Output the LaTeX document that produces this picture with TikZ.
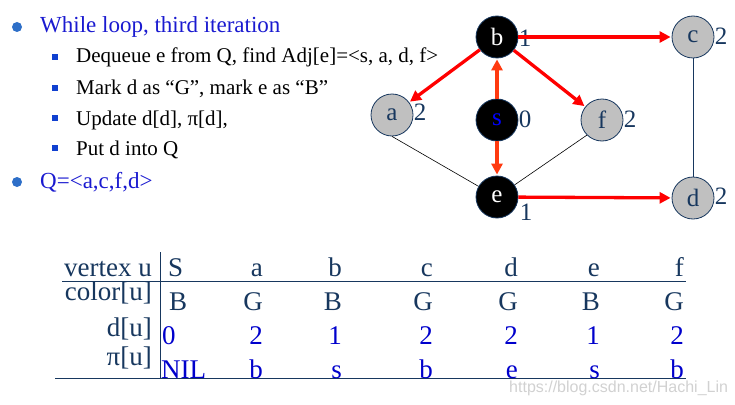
\documentclass[tikz,border=0pt]{standalone}
\usepackage{fontspec}
\setmainfont{Liberation Serif}
\newfontfamily\wmfont{Liberation Sans}
\usetikzlibrary{arrows.meta}
\definecolor{navy}{HTML}{17375E}
\definecolor{tblue}{HTML}{0000CC}
\definecolor{hblue}{HTML}{1A1AD0}
\definecolor{bulletblue}{HTML}{2E6FC8}
\definecolor{sqblue}{HTML}{1040D0}
\definecolor{nodegray}{HTML}{C0C0C0}
\definecolor{arrred}{HTML}{FF0000}
\definecolor{arrorange}{HTML}{FF3A10}
\tikzset{
  vtx/.style={circle, minimum size=42pt, inner sep=0pt, draw=navy, line width=0.8pt, font=\fontsize{25}{25}\selectfont},
  grayv/.style={vtx, fill=nodegray, text=navy},
  blackv/.style={vtx, fill=black, text=white},
  dist/.style={text=navy, font=\fontsize{25}{25}\selectfont, inner sep=0pt},
  tree/.style={draw=arrred, line width=3.3pt, -{Triangle[length=11pt,width=11pt]}, shorten >=1pt},
  treeo/.style={draw=arrorange, line width=3.3pt, -{Triangle[length=11pt,width=11pt]}, shorten >=1pt},
  plain/.style={draw=black, line width=0.6pt},
  bigbul/.style={circle, fill=bulletblue, minimum size=10pt, inner sep=0pt},
  sqbul/.style={rectangle, fill=sqblue, minimum size=6pt, inner sep=0pt},
  head/.style={anchor=base west, inner sep=0pt, text=hblue, font=\fontsize{23}{27}\selectfont},
  sub/.style={anchor=base west, inner sep=0pt, text=black, font=\fontsize{21}{25}\selectfont},
  rlab/.style={anchor=base east, inner sep=0pt, text=navy, font=\fontsize{27}{30}\selectfont},
  cnavy/.style={anchor=base east, inner sep=0pt, text=navy, font=\fontsize{27}{30}\selectfont},
  cblue/.style={anchor=base east, inner sep=0pt, text=tblue, font=\fontsize{27}{30}\selectfont},
  tline/.style={draw=navy, line width=1pt}
}
\begin{document}
\begin{tikzpicture}[x=1pt,y=-1pt]
\useasboundingbox (0,0) rectangle (735,404);
% bullets and text
\node[bigbul] (b1) at (17,27) {};
\node[head] (t1) at (40,33) {While loop, third iteration};
\node[sqbul] (s1) at (55,57) {};
\node[sub] (u1) at (76,63) {Dequeue e from Q, find Adj[e]=<s, a, d, f>};
\node[sqbul] (s2) at (55,88) {};
\node[sub] (u2) at (76,94) {Mark d as “G”, mark e as “B”};
\node[sqbul] (s3) at (55,118) {};
\node[sub] (u3) at (76,125) {Update d[d], π[d],};
\node[sqbul] (s4) at (55,148) {};
\node[sub] (u4) at (76,155) {Put d into Q};
\node[bigbul] (b2) at (17,182) {};
\node[head] (t2) at (40,188) {Q=<a,c,f,d>};
% graph
\node[blackv] (b) at (497,37) {b};
\node[grayv] (c) at (693,37) {c};
\node[grayv] (a) at (392,115) {a};
\node[blackv, text=blue] (s) at (497,120) {s};
\node[grayv] (f) at (602,120) {f};
\node[blackv] (e) at (497,197) {e};
\node[grayv] (d) at (693,198) {d};
\node[dist] (lb) at (525,38) {1};
\node[dist] (lc) at (721,36) {2};
\node[dist] (la) at (420,112) {2};
\node[dist] (ls) at (525,119) {0};
\node[dist] (lf) at (630,119) {2};
\node[dist] (le) at (526,212) {1};
\node[dist] (ld) at (721,196) {2};
\draw[plain] (a.south) -- (e);
\draw[plain] (f.south west) -- (e);
\draw[draw=navy, line width=0.8pt] (c) -- (d);
\draw[tree] (b) -- (c);
\draw[tree] (b) -- (a);
\draw[tree] (b) -- (f);
\draw[tree] (e) -- (d);
\draw[treeo] (s) -- (b);
\draw[treeo] (s) -- (e);
% table
\coordinate (vt) at (160,252);
\coordinate (vb) at (160,378);
\coordinate (hl) at (62,281);
\coordinate (hr) at (686,281);
\coordinate (bl) at (55,378);
\coordinate (br) at (686,378);
\draw[tline] (vt) -- (vb);
\draw[tline] (hl) -- (hr);
\draw[tline] (bl) -- (br);
\node[rlab] (r1) at (152,276) {vertex u};
\node[rlab] (r2) at (152,300) {color[u]};
\node[rlab] (r3) at (152,336) {d[u]};
\node[rlab] (r4) at (152,365) {π[u]};
% column S
\node[cnavy, anchor=base west] (h0) at (168,276) {S};
\node[cnavy, anchor=base west] (c0) at (169,310) {B};
\node[cblue, anchor=base west] (d0) at (162,344) {0};
\node[cblue, anchor=base west] (p0) at (161,378) {NIL};
% other columns
\foreach \x/\h/\c/\dd/\p [count=\i] in {263/a/G/2/b, 342/b/B/1/s, 433/c/G/2/b, 518/d/G/2/e, 600/e/B/1/s, 684/f/G/2/b}{
  \node[cnavy] (h\i) at (\x,276) {\h};
  \node[cnavy] (c\i) at (\x,310) {\c};
  \node[cblue] (d\i) at (\x,344) {\dd};
  \node[cblue] (p\i) at (\x,378) {\p};
}
\node[anchor=base west, inner sep=0pt, text=black!18, font=\wmfont\fontsize{16}{18}\selectfont] (wm) at (509,392) {https://blog.csdn.net/Hachi\_Lin};
\end{tikzpicture}
\end{document}
